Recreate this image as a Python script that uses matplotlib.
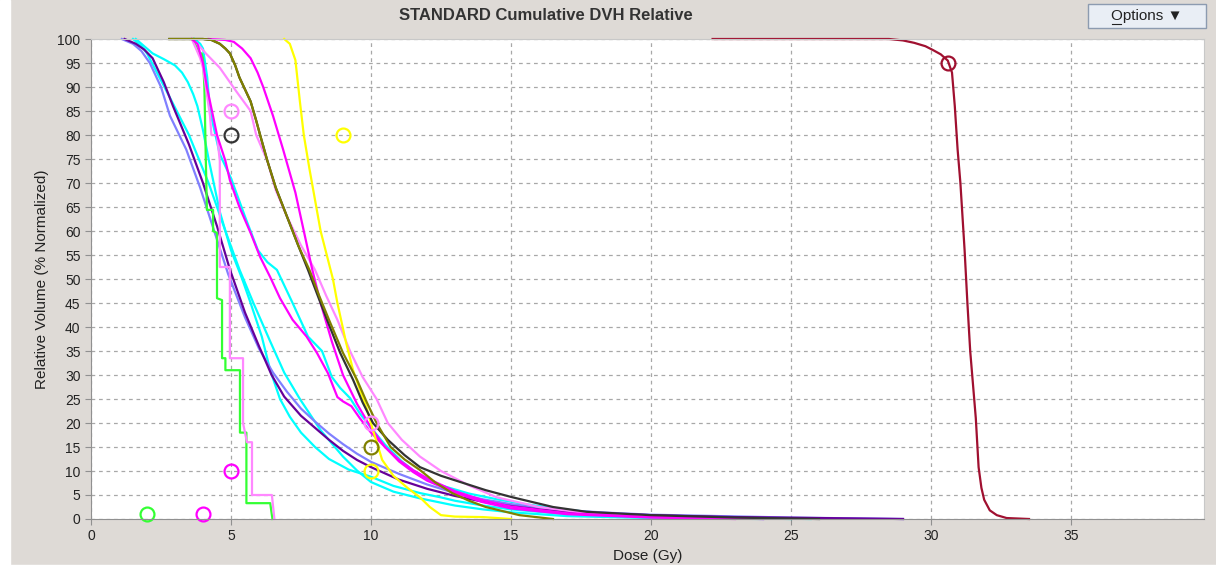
import matplotlib
matplotlib.use("Agg")
import matplotlib.pyplot as plt
from matplotlib.patches import Rectangle

# dose (Gy) / relative volume (%) points
green_dose = [3.65, 3.85, 3.95, 4.0, 4.05, 4.1, 4.14, 4.36, 4.36, 4.5, 4.5, 4.68, 4.68, 4.8, 4.8, 5.32, 5.32, 5.55, 5.55, 6.4, 6.48]
green_vol = [100, 97, 97, 96, 90, 75, 64.4, 64.4, 60, 59.6, 46, 45.6, 33.5, 33.5, 31, 31, 18, 18, 3.3, 3.3, 0]

pink_step_dose = [3.6, 3.75, 3.9, 4.0, 4.25, 4.3, 4.5, 4.6, 4.6, 4.96, 4.96, 5.43, 5.43, 5.57, 5.75, 5.75, 6.46, 6.55]
pink_step_vol = [100, 98, 96, 94, 84, 80, 80, 74.6, 52.5, 52.5, 33.5, 33.5, 20, 16, 16, 5, 5, 0]

purple_dose = [1.2, 1.6, 1.9, 2.2, 2.6, 2.93, 3.5, 4.0, 4.5, 4.96, 5.5, 6.0, 6.45, 6.9, 7.5, 8.0, 8.5, 9.0, 9.5, 10.0,
               11, 12, 13, 14, 15, 16, 17, 18.5, 20, 23, 26, 29]
purple_vol = [100, 99, 97.8, 96, 91, 86, 78, 70, 61, 52, 43, 36, 30, 25.5, 21.5, 19, 16.5, 14.2, 12.3, 10.8,
              8.2, 6.3, 4.8, 3.6, 2.7, 2.0, 1.5, 1.1, 0.8, 0.4, 0.2, 0]

lilac_dose = [1.1, 1.5, 1.8, 2.1, 2.5, 2.82, 3.4, 3.9, 4.4, 4.9, 5.5, 6.0, 6.5, 7.0, 7.5, 8.0, 8.5, 9.0, 9.5, 10,
              11, 12, 13, 14, 15, 16, 17, 18.5, 20, 25, 29]
lilac_vol = [100, 99, 97.5, 95, 90, 84, 77, 69, 60, 51, 42, 35.5, 30.5, 26.5, 23, 20.3, 17.8, 15.6, 13.6, 11.9,
             9.4, 7.2, 5.4, 4.1, 3.1, 2.4, 1.8, 1.3, 0.9, 0.3, 0]

cyan_a_dose = [3.7, 3.9, 4.0, 4.15, 4.25, 4.6, 5.0, 5.5, 5.96, 6.3, 6.64, 7.2, 7.75, 8.25, 8.6, 8.9, 9.25, 9.6, 10, 10.5, 11.1,
               11.75, 12.5, 13.5, 14.5, 15.5, 17, 18.5, 20, 23, 25.7]
cyan_a_vol = [100, 99, 98, 92, 85, 76, 71, 63, 56, 53.5, 51.9, 45, 38, 35, 29.6, 27.3, 25.2, 22, 19, 15.5, 12,
              9, 7, 5.3, 4.1, 3.1, 1.9, 1.1, 0.6, 0.2, 0]

cyan_b_dose = [1.6, 1.9, 2.2, 2.6, 3.0, 3.25, 3.46, 3.65, 3.8, 4.0, 4.2, 4.6, 5.0, 5.4, 5.7, 6.1, 6.4, 6.75, 7.1, 7.5, 8.0, 8.5,
               9.2, 10, 10.8, 11.75, 12.5, 13, 14, 15, 17, 20, 25]
cyan_b_vol = [100, 98.5, 97, 95.8, 94.5, 93, 91, 88.5, 86, 81, 75, 64, 56, 50, 45, 38, 31, 25, 21.3, 18, 15, 12.5,
              10.3, 8.8, 6.9, 5.4, 4.5, 3.8, 2.8, 2, 1, 0.4, 0]

cyan_c_dose = [1.5, 1.8, 2.0, 2.4, 2.8, 3.5, 4.2, 4.8, 5.3, 5.8, 6.4, 6.9, 7.46, 8.2, 9.0, 9.5, 10, 10.8, 11.75, 12.5, 13, 14,
               15, 17, 20, 24]
cyan_c_vol = [100, 98.5, 97, 92.5, 88, 80, 70, 60, 52, 45, 37, 30.5, 25, 18.5, 13, 10.1, 7.7, 5.7, 4.3, 3.4, 2.8, 2.0,
              1.4, 0.6, 0.2, 0]

magenta_a_dose = [3.6, 3.8, 4.0, 4.14, 4.5, 4.8, 4.96, 5.3, 5.7, 6.04, 6.4, 6.75, 7.2, 7.7, 8.07, 8.46, 8.8, 9.0, 9.3, 9.6, 10,
                  10.5, 11, 11.5, 12, 13, 14, 15, 17, 20, 24]
magenta_a_vol = [100, 99, 95, 90, 80, 74.6, 70.6, 65, 59.6, 54.6, 50.4, 46, 41.5, 38, 34.6, 30.4, 25.4, 24.5, 23.5, 21, 18,
                 15, 12.3, 10.2, 8.5, 5.8, 3.9, 2.6, 1.2, 0.4, 0]

magenta_b_dose = [4.2, 4.8, 5.1, 5.4, 5.7, 5.95, 6.15, 6.5, 6.86, 7.3, 7.6, 7.9, 8.2, 8.6, 9.0, 9.5, 10, 10.5, 11, 11.5, 12, 13,
                  14, 15, 17, 20, 23]
magenta_b_vol = [100, 99.8, 99.4, 98, 96, 93, 90, 84, 77, 68, 60, 52, 45, 37, 30, 24, 19, 15, 12, 9.8, 8, 5.5,
                 3.5, 2.2, 1, 0.3, 0]

pink_dose = [3.8, 4.1, 4.6, 5.2, 5.7, 5.9, 6.3, 6.6, 7.0, 7.5, 8.0, 8.4, 8.8, 9.25, 9.7, 10.2, 10.6, 11.1, 11.75, 12.5, 13.5,
             14.5, 16, 18, 21, 24]
pink_vol = [99, 97, 94, 89, 85, 80, 74.6, 68.5, 63, 57, 51.9, 46.5, 41.5, 35, 29.6, 25, 20, 16.5, 13, 10, 7,
            4.5, 2.5, 1, 0.3, 0]

black_dose = [2.8, 4.0, 4.3, 4.6, 4.8, 4.96, 5.15, 5.3, 5.5, 5.7, 5.9, 6.04, 6.3, 6.6, 7.0, 7.4, 7.75, 8.1, 8.43, 8.9, 9.36,
              9.7, 10.07, 10.6, 11.2, 11.75, 12.5, 13.3, 14.1, 15, 16.5, 17.7, 20, 23, 26]
black_vol = [100, 100, 99.8, 99, 98, 97, 94.5, 92, 89.5, 87, 83, 80, 74.6, 69, 63, 57, 51.9, 46.5, 41.5, 34.6, 29,
             24.3, 20, 16.5, 13.3, 10.8, 9, 7.5, 6, 4.6, 2.5, 1.5, 0.8, 0.3, 0]

olive_dose = [2.8, 4.0, 4.3, 4.6, 4.8, 4.96, 5.15, 5.3, 5.5, 5.7, 5.9, 6.04, 6.3, 6.6, 7.0, 7.4, 7.8, 8.15, 8.5, 9.0, 9.5,
              9.85, 10.2, 10.7, 11.2, 11.75, 12.3, 12.9, 13.5, 14.1, 15.3, 16.5]
olive_vol = [100, 100, 99.8, 99, 98, 97, 94.5, 92, 89.5, 87, 83, 80, 74.6, 69, 63, 57, 51.9, 46.5, 41.5, 34.6, 29,
             24.3, 20, 15, 12.4, 10.2, 7.6, 5.4, 3.8, 2.5, 0.8, 0]

yellow_dose = [6.9, 7.1, 7.3, 7.46, 7.6, 7.8, 8.2, 8.64, 8.8, 9.1, 9.36, 9.6, 9.85, 10.07, 10.4, 10.8, 11.3, 11.75, 12.1, 12.5,
               13, 14, 15]
yellow_vol = [100, 99, 95.6, 87, 80, 73, 60, 50, 45, 37, 31, 27, 23, 18.5, 12.3, 9, 6.5, 4.5, 2.5, 0.8,
              0.5, 0.4, 0]

red_dose = [22.2, 28.5, 29.0, 29.4, 29.8, 30.07, 30.35, 30.6, 30.75, 30.85, 30.95, 31.05, 31.2, 31.3, 31.4, 31.5, 31.6, 31.7,
            31.8, 31.9, 32.1, 32.35, 32.7, 33.5]
red_vol = [100, 100, 99.7, 99.2, 98.5, 97.7, 96.8, 95.5, 93, 86, 77, 70, 56, 45, 35, 28, 21, 10.8,
           6.5, 4, 1.8, 0.8, 0.2, 0]

# objective markers (dose, volume, colour)
marker_dose = [2, 4, 5, 5, 5, 9, 10, 10, 10, 30.6]
marker_vol = [1, 1, 10, 85, 80, 80, 15, 20, 10, 95]
marker_color = ["#33ff33", "#ff00ff", "#ff00ff", "#ff88ff", "#333333", "#ffff00", "#808000", "#ff88ff", "#ffff00", "#a01030"]

curves = [
    (red_dose, red_vol, "#a01030"),
    (cyan_a_dose, cyan_a_vol, "#00ffff"),
    (cyan_b_dose, cyan_b_vol, "#00ffff"),
    (cyan_c_dose, cyan_c_vol, "#00ffff"),
    (lilac_dose, lilac_vol, "#8080ff"),
    (purple_dose, purple_vol, "#660099"),
    (green_dose, green_vol, "#33ff33"),
    (pink_step_dose, pink_step_vol, "#ff88ff"),
    (pink_dose, pink_vol, "#ff88ff"),
    (magenta_a_dose, magenta_a_vol, "#ff00ff"),
    (magenta_b_dose, magenta_b_vol, "#ff00ff"),
    (yellow_dose, yellow_vol, "#ffff00"),
    (black_dose, black_vol, "#333333"),
    (olive_dose, olive_vol, "#808000"),
]

fonts = ["Liberation Sans", "DejaVu Sans"]
bg = "#dedad6"
fig = plt.figure(figsize=(12.16, 5.70), dpi=100, facecolor=bg)
# white margins left and bottom of the panel
fig.patches.append(Rectangle((0, 0), 10 / 1216, 1, transform=fig.transFigure, color="white", zorder=-1))
fig.patches.append(Rectangle((0, 0), 1, 5 / 570, transform=fig.transFigure, color="white", zorder=-1))

ax = fig.add_axes([91 / 1216, 1 - 519 / 570, (1204 - 91) / 1216, (519 - 39) / 570])
ax.set_facecolor("white")

# curves drawn unclipped so the 100% / 0% plateaus sit visibly on the frame
for d, v, c in curves:
    ax.plot(d, v, color=c, lw=1.6, solid_joinstyle="round", clip_on=False)

for d, v, c in zip(marker_dose, marker_vol, marker_color):
    ax.plot(d, v, "o", mfc="none", mec=c, ms=10, mew=1.6, clip_on=False)

ax.set_xlim(0, 39.75)
ax.set_ylim(0, 100)
ax.set_xticks(range(0, 40, 5))
ax.set_yticks(range(0, 101, 5))
ax.grid(True, color="#a8a8a8", linestyle=(0, (3, 3)), lw=0.9)
ax.set_axisbelow(True)
for s in ax.spines.values():
    s.set_color("#c8c8c8")
ax.spines["left"].set_color("#909090")
ax.spines["bottom"].set_color("#909090")
ax.tick_params(colors="#909090", labelcolor="#222222", labelsize=10, length=4, width=0.8)
for lbl in ax.get_xticklabels() + ax.get_yticklabels():
    lbl.set_family(fonts)

ax.set_xlabel("Dose (Gy)", fontsize=11, family=fonts, color="#222222", labelpad=4)
ax.set_ylabel("Relative Volume (% Normalized)", fontsize=11, family=fonts, color="#222222", labelpad=6)

fig.text(546 / 1216, 1 - 15 / 570, "STANDARD Cumulative DVH Relative", ha="center", va="center",
         fontsize=12, fontweight="bold", family=fonts, color="#333333")

# Options button
fig.patches.append(Rectangle((1088 / 1216, 1 - 28 / 570), 118 / 1216, 24 / 570, transform=fig.transFigure,
                             facecolor="#e9eef5", edgecolor="#8c9bb0", lw=1))
fig.text(1147 / 1216, 1 - 16 / 570, "Options \u25bc", ha="center", va="center", fontsize=11,
         family=fonts, color="#222222")
fig.lines.append(plt.Line2D([1112 / 1216, 1121 / 1216], [1 - 24 / 570, 1 - 24 / 570],
                            transform=fig.transFigure, color="#222222", lw=0.8))

fig.savefig("out.png", dpi=100, facecolor=bg)
